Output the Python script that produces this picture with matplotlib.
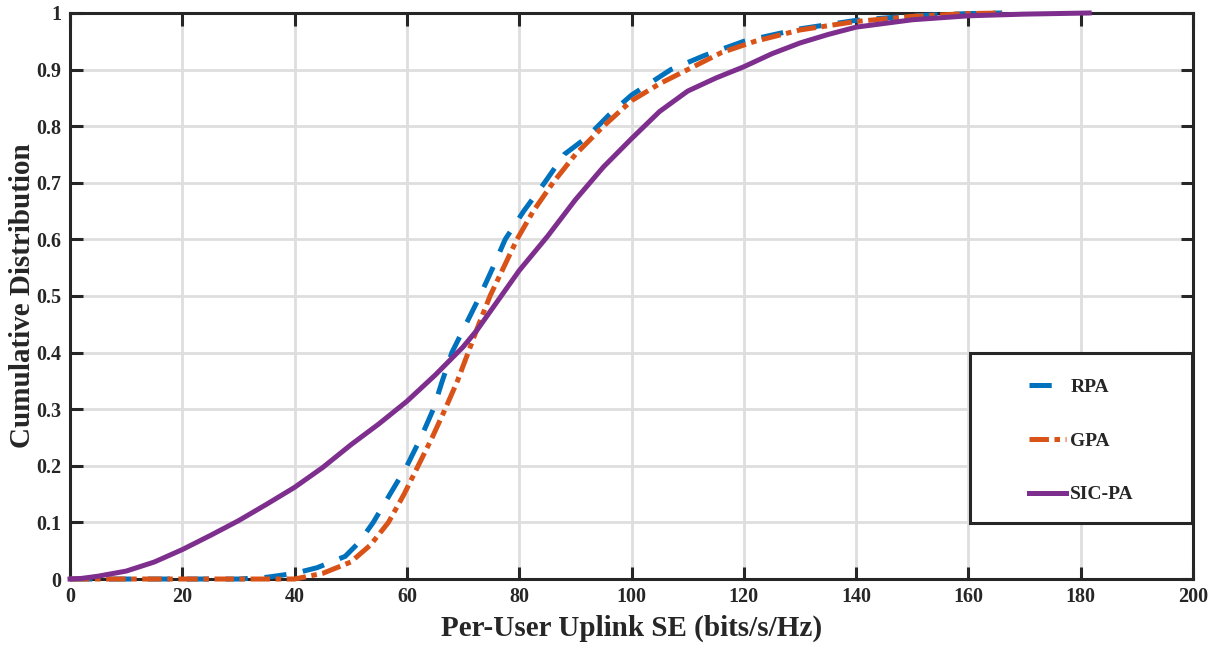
import matplotlib
matplotlib.use('Agg')
import matplotlib.pyplot as plt
from matplotlib.patches import Rectangle
from matplotlib.ticker import FormatStrFormatter

# ── data (x = per-user SE, y = CDF) ──
rpa_x = [0, 30, 35, 40, 44, 49, 51.5, 54, 57, 60, 62.5, 64.7, 66.3, 68, 70.5, 73,
         75.3, 77.5, 80.8, 84.5, 88, 92, 96, 100, 107, 113, 120, 130, 140, 150, 160, 166]
rpa_cdf = [0, 0, 0.003, 0.01, 0.02, 0.04, 0.065, 0.1, 0.15, 0.2, 0.25, 0.3, 0.35, 0.4, 0.45, 0.5,
           0.55, 0.6, 0.65, 0.7, 0.75, 0.78, 0.82, 0.855, 0.9, 0.925, 0.95, 0.972, 0.987, 0.995, 0.999, 1.0]

gpa_x = [0, 40, 42, 45, 50, 53.5, 56.7, 59.5, 62, 64.5, 66.8, 69, 70.9, 72.8, 74.8, 77.2,
         79.6, 82.5, 86, 90, 95, 100, 105, 110, 116, 122, 130, 140, 150, 160, 166]
gpa_cdf = [0, 0, 0.004, 0.01, 0.03, 0.06, 0.1, 0.15, 0.2, 0.25, 0.3, 0.35, 0.4, 0.45, 0.5, 0.55,
           0.6, 0.65, 0.7, 0.75, 0.8, 0.845, 0.875, 0.9, 0.93, 0.95, 0.97, 0.985, 0.994, 0.999, 1.0]

sic_x = [0, 2, 5, 10, 15, 20, 25, 30, 35, 40, 45, 50, 55, 60, 65, 70, 72.5, 75, 80, 85, 90,
         95, 100, 105, 110, 115, 120, 125, 130, 135, 140, 150, 160, 170, 181.5]
sic_cdf = [0, 0.001, 0.005, 0.014, 0.03, 0.052, 0.077, 0.103, 0.132, 0.162, 0.197, 0.237, 0.274,
           0.314, 0.36, 0.41, 0.44, 0.475, 0.545, 0.605, 0.67, 0.728, 0.778, 0.826, 0.862, 0.885,
           0.905, 0.928, 0.947, 0.962, 0.975, 0.988, 0.995, 0.998, 1.0]

labels = ['RPA', 'GPA', 'SIC-PA']
x_ticks = list(range(0, 201, 20))
y_ticks = [i / 10 for i in range(11)]

COLORS = {'RPA': '#0072BD', 'GPA': '#D95319', 'SIC-PA': '#7E2F8E'}
INK = '#262626'

plt.rcParams['font.family'] = ['Liberation Serif', 'DejaVu Serif']
plt.rcParams['font.weight'] = 'bold'
plt.rcParams['lines.scale_dashes'] = False

fig = plt.figure(figsize=(12.2, 6.46), dpi=100)
ax = fig.add_axes([0.0574, 0.1037, 0.9205, 0.8762])

lw = 3.6
ax.plot(rpa_x, rpa_cdf, color=COLORS['RPA'], lw=lw, dashes=(16, 12),
        dash_capstyle='butt', label=labels[0], clip_on=False, zorder=3)
ax.plot(gpa_x, gpa_cdf, color=COLORS['GPA'], lw=lw, dashes=(14, 4, 4, 4),
        dash_capstyle='butt', label=labels[1], clip_on=False, zorder=3)
ax.plot(sic_x, sic_cdf, color=COLORS['SIC-PA'], lw=lw, label=labels[2],
        clip_on=False, zorder=3)

ax.set_xlim(0, 200)
ax.set_ylim(0, 1)
ax.set_xticks(x_ticks)
ax.set_yticks(y_ticks)
ax.yaxis.set_major_formatter(FormatStrFormatter('%g'))
ax.tick_params(direction='in', length=9, width=2.2, top=True, right=True,
               labelsize=14.5, pad=6, color=INK, labelcolor=INK)
for s in ax.spines.values():
    s.set_linewidth(2.2)
    s.set_color(INK)

ax.set_axisbelow(True)
ax.grid(color='#dedede', lw=2.0)

ax.set_xlabel('Per-User Uplink SE (bits/s/Hz)', fontsize=21, fontweight='bold',
              color=INK, labelpad=5)
ax.set_ylabel('Cumulative Distribution', fontsize=21, fontweight='bold',
              color=INK, labelpad=0.5)

# legend box (frame drawn separately to get MATLAB-like padding)
box = Rectangle((0.8014, 0.0989), 0.1977, 0.3004, transform=ax.transAxes,
                facecolor='white', edgecolor=INK, lw=2.2, zorder=4)
ax.add_patch(box)
leg = ax.legend(loc='upper left', bbox_to_anchor=(0.8358, 0.429),
                bbox_transform=fig.transFigure, frameon=False, fontsize=14,
                handlelength=1.9, handletextpad=0.2, labelspacing=1.85,
                borderpad=0)
leg.set_zorder(5)
for t in leg.get_texts():
    t.set_color(INK)

fig.savefig('out.png', dpi=100)
